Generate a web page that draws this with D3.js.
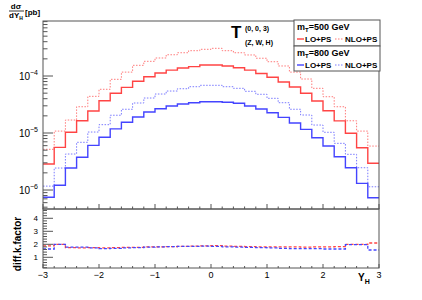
<!DOCTYPE html>
<html>
<head>
<meta charset="utf-8">
<script src="https://cdn.jsdelivr.net/npm/d3@7"></script>
<style>
  body { margin: 0; background: #fff; }
  text { font-family: "Liberation Sans", Arial, sans-serif; fill: #000; }
</style>
</head>
<body>
<div id="chart"></div>
<script>
// rapidity distribution of H, top pad (xsec) + bottom pad (k factor)

var binEdges = [-3.0, -2.8, -2.6, -2.4, -2.2, -2.0, -1.8, -1.6, -1.4, -1.2, -1.0,
                -0.8, -0.6, -0.4, -0.2, 0.0, 0.2, 0.4, 0.6, 0.8, 1.0,
                1.2, 1.4, 1.6, 1.8, 2.0, 2.2, 2.4, 2.6, 2.8, 3.0];

// mT = 500 GeV
var lo500 = [2.86e-6, 5.6e-6, 1.03e-5, 1.64e-5, 2.43e-5, 3.69e-5, 4.97e-5, 6.33e-5, 8.07e-5, 9.72e-5,
             1.13e-4, 1.27e-4, 1.38e-4, 1.46e-4, 1.56e-4, 1.56e-4, 1.50e-4, 1.40e-4, 1.27e-4, 1.11e-4,
             9.5e-5, 7.85e-5, 6.4e-5, 4.97e-5, 3.64e-5, 2.46e-5, 1.63e-5, 9.9e-6, 5.5e-6, 2.94e-6];
var nlo500 = [5.18e-6, 1.08e-5, 1.69e-5, 2.89e-5, 4.40e-5, 5.85e-5, 8.75e-5, 1.17e-4, 1.54e-4, 1.81e-4,
              2.07e-4, 2.36e-4, 2.56e-4, 2.78e-4, 2.94e-4, 3.06e-4, 2.78e-4, 2.56e-4, 2.34e-4, 2.05e-4,
              1.78e-4, 1.50e-4, 1.17e-4, 8.86e-5, 6.08e-5, 4.33e-5, 2.89e-5, 1.64e-5, 1.08e-5, 5.9e-6];
// mT = 800 GeV
var lo800 = [7.45e-7, 1.21e-6, 2.43e-6, 3.75e-6, 6.08e-6, 8.41e-6, 1.18e-5, 1.54e-5, 1.91e-5, 2.34e-5,
             2.67e-5, 2.98e-5, 3.23e-5, 3.40e-5, 3.54e-5, 3.54e-5, 3.46e-5, 3.32e-5, 2.98e-5, 2.64e-5,
             2.27e-5, 1.88e-5, 1.50e-5, 1.16e-5, 8.28e-6, 5.91e-6, 3.84e-6, 2.46e-6, 1.31e-6, 7.33e-7];
var nlo800 = [1.17e-6, 2.43e-6, 4.28e-6, 6.87e-6, 1.04e-5, 1.40e-5, 2.05e-5, 2.61e-5, 3.36e-5, 4.11e-5,
              4.83e-5, 5.45e-5, 5.98e-5, 6.49e-5, 6.87e-5, 6.87e-5, 6.49e-5, 6.08e-5, 5.39e-5, 4.78e-5,
              4.06e-5, 3.40e-5, 2.61e-5, 2.07e-5, 1.38e-5, 1.03e-5, 6.59e-6, 4.23e-6, 2.46e-6, 1.14e-6];

// k factors (bottom pad)
var kfac500 = [1.88, 2.0, 1.74, 1.72, 1.74, 1.72, 1.74, 1.76, 1.76, 1.8,
               1.8, 1.82, 1.84, 1.86, 1.88, 1.9, 1.86, 1.84, 1.82, 1.8,
               1.8, 1.8, 1.8, 1.78, 1.8, 1.8, 1.82, 2.0, 2.0, 2.1];
var kfac800 = [1.64, 2.0, 1.78, 1.78, 1.72, 1.66, 1.68, 1.72, 1.74, 1.78,
               1.8, 1.82, 1.84, 1.84, 1.86, 1.84, 1.8, 1.78, 1.76, 1.74,
               1.72, 1.68, 1.66, 1.66, 1.66, 1.64, 1.64, 1.98, 1.98, 1.56];

var xTickLabels = [-3, -2, -1, 0, 1, 2, 3];
var kTickLabels = [1, 2, 3, 4];

var W = 422, H = 300;
var left = 43, right = 379,
    topY = 21, midY = 209, botY = 268;

var red = "#ff4444", redDot = "#ff7a7a",
    blue = "#4444ff", blueDot = "#7a7aff",
    axisCol = "#555";

var svg = d3.select("#chart").append("svg")
    .attr("width", W).attr("height", H);

var x = d3.scaleLinear().domain([-3, 3]).range([left, right]);
var y = d3.scaleLog().domain([Math.pow(10, -6.333), Math.pow(10, -3.035)]).range([midY, topY]);
var yk = d3.scaleLinear().domain([0.177, 4.715]).range([botY, midY]);

// step path from bin values
function stepPoints(vals) {
  var pts = [];
  vals.forEach(function(v, i) {
    pts.push([binEdges[i], v]);
    pts.push([binEdges[i + 1], v]);
  });
  return pts;
}

function drawHist(g, vals, ys, col, width, dash) {
  var line = d3.line()
      .x(function(d) { return x(d[0]); })
      .y(function(d) { return ys(d[1]); });
  g.append("path")
    .attr("d", line(stepPoints(vals)))
    .attr("fill", "none")
    .attr("stroke", col)
    .attr("stroke-width", width)
    .attr("stroke-dasharray", dash || null);
}

// ---- top pad ----
var topPad = svg.append("g");
drawHist(topPad, nlo500, y, redDot, 1, "1.5,1.5");
drawHist(topPad, lo500, y, red, 1.4);
drawHist(topPad, nlo800, y, blueDot, 1, "1.5,1.5");
drawHist(topPad, lo800, y, blue, 1.4);

// frame
topPad.append("rect")
  .attr("x", left).attr("y", topY)
  .attr("width", right - left).attr("height", midY - topY)
  .attr("fill", "none").attr("stroke", axisCol).attr("stroke-width", 1);

// log y ticks
for (var e = -7; e <= -3; e++) {
  for (var m = 1; m <= 9; m++) {
    var v = m * Math.pow(10, e);
    if (v < y.domain()[0] || v > y.domain()[1]) continue;
    var yy = y(v);
    topPad.append("line")
      .attr("x1", left).attr("x2", left + (m === 1 ? 10 : 4.5))
      .attr("y1", yy).attr("y2", yy)
      .attr("stroke", axisCol).attr("stroke-width", 1);
    if (m === 1) {
      var t = topPad.append("text")
        .attr("x", left - 5).attr("y", yy + 4)
        .attr("text-anchor", "end")
        .style("font-size", "10px");
      t.append("tspan").text("10");
      t.append("tspan").attr("dy", -5).style("font-size", "7px").text("\u2212" + (-e));
    }
  }
}

// x ticks on a pad (no labels)
function xTicks(g, yBase, majLen, minLen) {
  for (var i = 0; i <= 30; i++) {
    var xv = -3 + i * 0.2;
    var major = (i % 5 === 0);
    g.append("line")
      .attr("x1", x(xv)).attr("x2", x(xv))
      .attr("y1", yBase).attr("y2", yBase - (major ? majLen : minLen))
      .attr("stroke", axisCol).attr("stroke-width", 1);
  }
}
xTicks(topPad, midY, 5, 2.5);

// y title
var yt = svg.append("g").style("font-weight", "bold");
yt.append("text").attr("x", 16).attr("y", 9).attr("text-anchor", "middle")
  .style("font-size", "8px").text("d\u03C3");
yt.append("line").attr("x1", 9).attr("x2", 24).attr("y1", 11).attr("y2", 11)
  .attr("stroke", "#000").attr("stroke-width", 0.8);
var dy = yt.append("text").attr("x", 9).attr("y", 18).style("font-size", "8px");
dy.append("tspan").text("dY");
dy.append("tspan").attr("dy", 2).style("font-size", "5px").text("H");
yt.append("text").attr("x", 25).attr("y", 15).style("font-size", "8px").text("[pb]");

// T label
var tl = svg.append("g").style("font-weight", "bold");
tl.append("text").attr("x", 231).attr("y", 38).style("font-size", "17px").text("T");
tl.append("text").attr("x", 245).attr("y", 31).style("font-size", "7px").text("(0, 0, 3)");
tl.append("text").attr("x", 245).attr("y", 45).style("font-size", "7px").text("(Z, W, H)");

// legend
var leg = svg.append("g");
leg.append("rect").attr("x", 294).attr("y", 20).attr("width", 86).attr("height", 26)
  .attr("fill", "#fff").attr("stroke", axisCol);
leg.append("rect").attr("x", 294).attr("y", 46).attr("width", 86).attr("height", 25)
  .attr("fill", "#fff").attr("stroke", axisCol);

var legends = [
  { title: "500", y0: 20, solid: red, dotted: redDot },
  { title: "800", y0: 46, solid: blue, dotted: blueDot }
];
legends.forEach(function(l) {
  var tt = leg.append("text").attr("x", 297).attr("y", l.y0 + 10)
    .style("font-size", "9px").style("font-weight", "bold");
  tt.append("tspan").text("m");
  tt.append("tspan").attr("dy", 2).style("font-size", "6px").text("T");
  tt.append("tspan").attr("dy", -2).text("=" + l.title + " GeV");
  var ly = l.y0 + 19;
  leg.append("line").attr("x1", 297).attr("x2", 304).attr("y1", ly).attr("y2", ly)
    .attr("stroke", l.solid).attr("stroke-width", 1.4);
  leg.append("text").attr("x", 305).attr("y", ly + 3)
    .style("font-size", "8px").style("font-weight", "bold").text("LO+PS");
  leg.append("line").attr("x1", 335).attr("x2", 344).attr("y1", ly).attr("y2", ly)
    .attr("stroke", l.dotted).attr("stroke-width", 1).attr("stroke-dasharray", "1.5,1.5");
  leg.append("text").attr("x", 345).attr("y", ly + 3)
    .style("font-size", "8px").style("font-weight", "bold").text("NLO+PS");
});

// ---- bottom pad ----
var botPad = svg.append("g");
drawHist(botPad, kfac500, yk, red, 1.3, "3,2");
drawHist(botPad, kfac800, yk, blue, 1.3, "3,2");

botPad.append("rect")
  .attr("x", left).attr("y", midY)
  .attr("width", right - left).attr("height", botY - midY)
  .attr("fill", "none").attr("stroke", axisCol).attr("stroke-width", 1);

xTicks(botPad, botY, 4, 2);

// k-factor y ticks
for (var k = 0.2; k <= 4.71; k += 0.2) {
  var kv = Math.round(k * 10) / 10;
  var major = Math.abs(kv - Math.round(kv)) < 1e-6;
  botPad.append("line")
    .attr("x1", left).attr("x2", left + (major ? 10 : 4))
    .attr("y1", yk(kv)).attr("y2", yk(kv))
    .attr("stroke", axisCol).attr("stroke-width", 1);
}
kTickLabels.forEach(function(d) {
  botPad.append("text").attr("x", left - 5).attr("y", yk(d) + 3)
    .attr("text-anchor", "end").style("font-size", "8px").text(d);
});

xTickLabels.forEach(function(d) {
  botPad.append("text").attr("x", x(d)).attr("y", 278)
    .attr("text-anchor", "middle").style("font-size", "9px")
    .text(d < 0 ? "\u2212" + (-d) : d);
});

// axis titles
var xt = svg.append("text").attr("x", 358).attr("y", 281)
  .style("font-size", "10px").style("font-weight", "bold");
xt.append("tspan").text("Y");
xt.append("tspan").attr("dy", 3).style("font-size", "7px").text("H");

svg.append("text")
  .attr("transform", "translate(21,244) rotate(-90)")
  .attr("text-anchor", "middle")
  .style("font-size", "10px").style("font-weight", "bold")
  .text("diff.k.factor");
</script>
</body>
</html>
